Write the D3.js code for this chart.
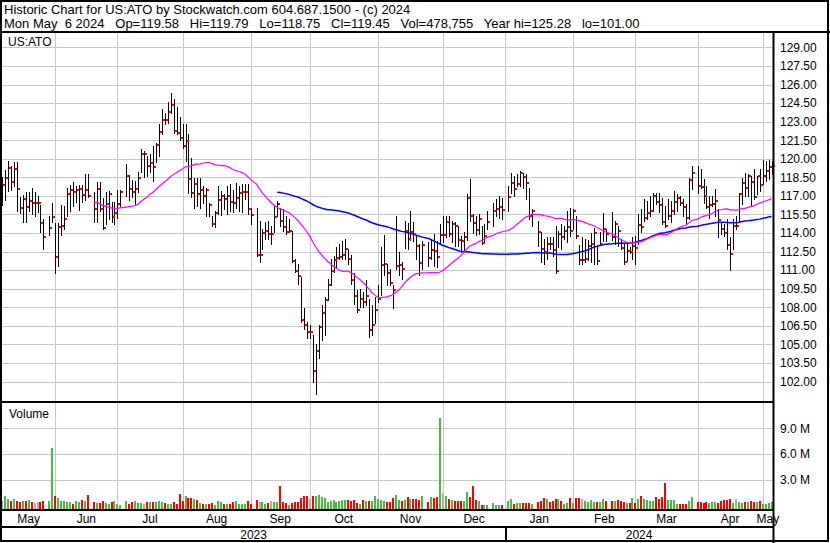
<!DOCTYPE html>
<html><head><meta charset="utf-8">
<script src="https://cdn.jsdelivr.net/npm/d3@7"></script>
<style>
body{margin:0;background:#fff}
svg{display:block}
text{font-family:"Liberation Sans",Arial,sans-serif;font-size:12px;fill:#000}
text.hdr{font-size:13px}
</style>
</head><body>
<svg id="c" width="830" height="543"></svg>
<script>
// ---- DATA (weekday slots from Mon 2023-05-08 to Mon 2024-05-06; null = market holiday) ----
const closes = [
117.86,118.45,119.25,118.12,119.17,117.56,116.03,116.76,116.11,116.6,
116.41,116.41,116.41,114.83,113.68,null,114.43,115.28,112.09,114.51,
114.59,115.12,117.16,117.48,117.32,117.48,117.56,117.05,117.48,117.0,
null,115.95,117.56,115.95,114.43,116.33,117.16,115.31,115.63,116.36,
117.32,null,118.61,117.56,117.32,117.56,118.45,120.38,120.38,119.41,
119.65,119.33,121.1,122.14,123.16,123.11,123.75,124.32,122.22,122.06,
121.66,121.02,121.42,118.39,117.24,117.96,117.16,117.48,117.0,117.48,
116.28,114.75,115.63,116.68,117.0,116.76,117.0,116.5,116.44,116.84,
117.24,117.3,117.32,115.95,115.47,null,112.25,112.25,114.0,114.2,
113.9,113.9,115.3,116.36,115.0,114.5,114.1,114.2,111.7,110.9,
110.5,107.0,106.55,106.0,106.0,102.85,104.46,106.4,107.5,108.6,
109.76,110.9,111.85,112.0,112.05,112.25,112.7,111.9,110.17,108.9,
107.8,108.7,108.4,108.9,106.2,106.55,107.75,108.7,111.45,111.53,
110.73,109.93,109.36,111.37,111.45,111.13,114.19,113.51,114.07,113.91,
112.98,111.56,113.03,null,112.0,112.66,112.55,112.1,113.84,113.84,
114.91,113.94,114.75,114.56,113.46,113.35,113.67,116.84,115.36,114.83,
114.26,115.15,113.22,113.73,114.91,null,115.79,115.92,116.08,115.84,
null,116.92,118.04,117.56,117.96,118.82,118.5,118.04,115.39,115.76,
null,114.1,112.74,112.5,113.14,113.1,112.6,110.97,113.94,113.67,
114.14,114.45,114.2,115.76,113.75,111.85,111.85,111.93,112.98,113.11,
113.99,111.77,113.11,114.32,113.94,null,113.67,114.75,114.16,112.82,
111.69,112.55,112.5,112.98,112.76,114.61,114.48,115.23,115.6,115.79,
117.0,116.51,116.27,114.91,114.53,115.36,115.76,116.51,116.81,116.4,
116.09,115.2,118.28,118.82,null,117.8,117.69,116.97,116.09,116.27,
116.38,116.6,115.04,114.32,114.0,113.03,112.31,114.58,114.58,117.16,
118.01,117.61,118.6,118.1,116.92,118.6,117.88,118.6,119.0,119.33,
119.45];

const highs = [
118.5,119.1,119.8,119.4,119.7,119.7,116.9,117.1,117.3,117.3,
117.6,117.3,117.0,116.3,115.1,null,115.4,116.4,114.8,114.8,
116.3,116.2,117.6,117.9,118.1,117.8,117.9,117.9,118.8,118.8,
null,117.3,118.1,118.1,116.8,117.3,117.4,116.5,116.5,117.5,
117.5,null,119.6,118.7,118.3,118.2,118.9,120.75,120.6,120.2,
120.35,121.0,121.3,122.8,124.0,123.7,124.6,125.28,124.8,124.2,
123.4,122.8,122.8,122.0,120.03,118.47,118.47,118.47,117.8,117.67,
116.46,115.4,115.8,117.8,117.4,117.13,117.8,117.94,117.5,118.07,
117.8,117.94,117.94,117.94,116.06,null,116.06,115.0,114.3,114.86,
115.0,114.6,116.2,116.6,116.06,115.93,115.4,115.1,114.2,111.9,
111.5,110.43,107.9,106.8,106.6,105.74,105.07,106.55,108.16,108.83,
110.3,111.9,112.18,112.85,113.1,113.38,113.5,112.7,112.2,110.8,
109.36,109.5,109.2,110.2,108.7,108.16,108.8,109.76,112.9,113.8,
111.5,111.1,109.8,115.4,112.44,111.64,115.0,114.8,115.8,114.86,
113.78,113.11,113.38,null,113.25,113.5,113.92,113.38,114.72,115.39,
115.39,115.39,114.99,114.86,114.59,113.78,114.05,117.13,118.34,115.5,
115.4,115.5,114.6,114.7,115.8,null,116.46,116.73,117.0,116.86,
null,117.8,118.87,118.6,118.74,119.0,118.87,118.74,117.67,115.92,
null,114.98,114.05,113.51,113.65,113.65,113.65,114.6,114.18,114.7,
114.58,115.79,116.06,115.92,115.4,113.0,113.65,113.5,113.4,114.0,
114.4,113.0,114.05,115.65,114.3,null,115.7,114.98,114.58,113.5,
113.1,113.24,112.84,113.65,113.78,115.52,115.92,116.73,116.59,117.0,
117.27,117.27,117.27,116.86,116.19,116.73,116.59,117.4,117.13,117.0,
116.73,116.32,118.47,119.4,null,119.4,119.14,118.34,117.8,117.0,
117.0,117.53,115.92,114.85,114.72,115.12,113.65,115.12,115.39,117.27,
118.47,118.87,118.74,118.6,119.14,118.6,119.14,119.94,119.8,119.94,
119.79];

const lows = [
116.3,116.7,117.4,117.5,117.8,115.8,115.6,114.9,114.9,115.8,
115.5,115.4,115.7,114.05,112.7,null,113.8,114.85,110.8,111.3,
113.8,114.3,115.4,115.8,116.2,116.5,115.9,116.5,116.7,116.9,
null,114.85,114.85,115.8,114.3,114.7,115.1,114.85,114.7,115.2,
116.2,null,117.0,116.7,116.9,116.3,117.3,118.9,118.5,118.6,
118.9,118.2,119.7,120.2,122.0,122.8,122.9,123.7,122.1,122.0,
121.55,120.9,119.8,117.2,116.95,116.06,116.2,116.06,116.46,115.4,
115.4,114.6,114.45,115.5,115.45,115.93,115.5,115.8,115.66,116.06,
115.8,115.66,116.73,115.5,114.72,null,112.18,111.64,112.7,113.5,
113.5,113.1,114.05,115.4,114.6,114.2,113.9,114.05,111.64,110.84,
109.9,106.8,106.28,105.5,105.5,102.0,101.0,103.87,105.34,105.74,
108.56,109.76,110.84,111.24,111.9,111.9,111.9,111.5,109.9,108.3,
107.6,108.0,108.0,108.2,105.6,105.74,106.7,108.4,109.0,110.6,
109.8,109.76,107.9,111.1,110.57,110.3,112.8,112.7,113.4,113.38,
111.9,110.57,111.1,null,111.37,111.9,111.37,111.24,113.11,113.25,
113.65,113.78,113.25,112.98,112.98,112.44,112.58,113.4,115.0,114.0,
113.8,113.9,113.1,113.25,114.3,null,114.58,115.39,115.25,115.12,
null,115.8,117.27,117.0,117.8,117.8,117.67,116.73,115.12,114.58,
null,112.98,111.63,111.5,111.9,112.71,112.17,110.8,112.85,112.7,
113.51,113.24,113.78,114.3,113.6,111.5,111.5,111.65,111.8,111.65,
111.5,111.5,113.0,113.38,113.38,null,113.4,113.1,112.98,112.7,
111.5,111.77,112.4,111.9,111.5,113.11,114.05,114.99,115.12,115.39,
115.79,116.32,115.66,114.72,114.45,115.12,114.86,115.5,115.79,116.3,
115.39,114.72,115.12,117.53,null,117.27,117.67,116.46,116.06,115.25,
116.2,115.39,113.65,113.91,113.78,112.71,111.0,112.7,114.3,114.99,
116.32,117.0,117.0,116.19,116.73,117.13,117.4,117.93,118.2,118.34,
118.75];

// volume in millions of shares
const volumes = [
0.55,1.09,0.74,0.55,0.74,0.51,0.47,0.55,0.51,0.66,
0.43,0.35,0.43,0.47,0.55,null,0.55,6.74,1.13,0.9,
0.58,0.51,0.39,0.43,0.23,0.55,0.43,0.7,0.58,1.25,
null,0.43,0.31,0.27,0.55,0.35,0.23,0.43,0.58,0.16,
0.12,null,0.55,0.19,0.43,0.55,0.35,0.31,0.23,0.39,
0.43,0.47,0.39,0.55,0.39,0.35,0.19,0.19,0.43,0.23,
1.36,0.55,1.13,0.9,0.9,0.78,0.66,0.31,0.2,0.19,
0.19,0.27,0.15,0.55,0.39,0.23,0.23,0.23,0.47,0.55,
0.23,0.23,0.16,0.55,0.19,null,0.7,0.43,0.43,0.23,
0.35,0.55,0.43,0.43,2.3,0.43,0.35,0.15,0.27,0.43,
0.43,0.94,1.13,1.13,0.78,1.13,1.17,1.25,1.05,0.94,
0.43,0.55,0.66,0.47,0.55,0.62,0.66,0.66,0.55,0.62,
0.27,0.19,0.66,0.55,0.58,0.58,1.09,0.82,0.66,0.55,
0.43,0.43,0.9,1.25,0.7,0.51,0.7,1.01,0.82,0.82,
0.82,0.66,1.13,null,0.47,1.01,0.94,1.01,10.13,1.48,
1.13,0.78,0.62,0.55,0.55,0.55,0.55,1.6,1.01,2.3,
0.66,0.55,0.05,0.05,0.08,null,0.31,0.12,0.08,0.12,
null,0.58,0.78,0.19,0.27,0.27,0.31,0.31,0.31,0.19,
null,0.47,0.55,0.9,0.82,0.43,0.55,0.74,0.78,0.55,
0.16,0.27,0.9,0.31,0.9,0.9,0.78,0.58,0.43,0.62,
0.43,0.43,0.43,0.78,0.55,null,0.55,0.55,0.66,0.55,
0.43,0.27,0.35,0.9,0.31,0.78,1.13,0.78,0.66,0.58,
0.55,0.97,0.78,1.01,2.68,0.66,0.66,0.66,0.23,0.23,
0.23,0.23,0.58,1.01,null,0.43,0.43,0.35,0.43,0.27,
0.43,0.43,0.27,0.55,0.66,0.66,0.74,0.35,0.78,0.39,
0.35,0.47,0.43,0.55,0.39,0.43,0.51,0.23,0.23,0.31,
0.48];

const priceTicks = [102.00,103.50,105.00,106.50,108.00,109.50,111.00,112.50,114.00,115.50,117.00,118.50,120.00,121.50,123.00,124.50,126.00,127.50,129.00];
const volumeTicks = [3,6,9];
const volumeTickLabels = ["3.0 M","6.0 M","9.0 M"];
const monthNames = ["May","Jun","Jul","Aug","Sep","Oct","Nov","Dec","Jan","Feb","Mar","Apr","May"];
const monthStartSlots = [18,39,61,84,104,127,149,170,193,214,235,257];
const yearNames = ["2023","2024"];
const yearStartSlot = 170;
const headerLine1 = "Historic Chart for US:ATO by Stockwatch.com 604.687.1500 - (c) 2024";
const headerLine2 = "Mon May  6 2024   Op=119.58   Hi=119.79   Lo=118.75   Cl=119.45   Vol=478,755   Year hi=125.28   lo=101.00";
const symbol = "US:ATO";
const maShort = 30, maLong = 90;

// ---- DRAWING ----
const svg = d3.select("#c");
const W = 830, H = 543;
const plotL = 2, plotR = 773;
const priceTop = 33, priceBot = 401, volTop = 403, volBot = 509;

const x = d3.scaleLinear().domain([0, 260]).range([2.0, 771.6]);
const y = d3.scaleLinear().domain([102, 129]).range([381.5, 47.4]);
const vy = d3.scaleLinear().domain([0, 9]).range([505.8, 428.2]);
const p = v => Math.round(v) + 0.5;
const GRID = "#c8c8c8";

svg.append("rect").attr("width", W).attr("height", H).attr("fill", "#fff");

const g = svg.append("g");
g.selectAll(".pg").data(priceTicks).join("line")
  .attr("x1", plotL).attr("x2", plotR - 1)
  .attr("y1", d => p(y(d))).attr("y2", d => p(y(d)))
  .attr("stroke", GRID).attr("stroke-width", 1);
g.selectAll(".vg").data(volumeTicks).join("line")
  .attr("x1", plotL).attr("x2", plotR - 1)
  .attr("y1", d => p(vy(d))).attr("y2", d => p(vy(d)))
  .attr("stroke", GRID).attr("stroke-width", 1);
[[priceTop, priceBot], [volTop, volBot]].forEach(([a, b]) => {
  g.append("g").selectAll("line").data(monthStartSlots).join("line")
    .attr("x1", d => p(x(d))).attr("x2", d => p(x(d)))
    .attr("y1", a).attr("y2", b)
    .attr("stroke", GRID).attr("stroke-width", 1);
});

const idx = d3.range(closes.length).filter(i => closes[i] != null);

function dir(k) {
  if (k === 0) return 0;
  const i = idx[k], j = idx[k - 1];
  return closes[i] > closes[j] ? 1 : (closes[i] < closes[j] ? -1 : 0);
}
const volColor = d => d > 0 ? "#4cb944" : (d < 0 ? "#ff0000" : "#b0b0b0");
svg.append("g").selectAll("rect").data(idx.map((i, k) => ({i, v: volumes[i], d: dir(k)})))
  .join("rect")
  .attr("x", d => Math.round(x(d.i)) - 1)
  .attr("width", 2)
  .attr("y", d => Math.round(vy(d.v)))
  .attr("height", d => volBot - Math.round(vy(d.v)))
  .attr("fill", d => volColor(d.d));

svg.append("g").selectAll("line").data(idx).join("line")
  .attr("x1", i => p(x(i))).attr("x2", i => p(x(i)))
  .attr("y1", i => Math.round(y(highs[i]))).attr("y2", i => Math.round(y(lows[i])) + 1)
  .attr("stroke", "#000").attr("stroke-width", 1);

function sma(n) {
  const out = [];
  for (let k = n - 1; k < idx.length; k++) {
    out.push([idx[k], d3.mean(idx.slice(k - n + 1, k + 1), i => closes[i])]);
  }
  return out;
}
const line = d3.line().x(d => x(d[0])).y(d => y(d[1]));
svg.append("path").datum(sma(maLong)).attr("d", line)
  .attr("fill", "none").attr("stroke", "#0000ff").attr("stroke-width", 1.5);
svg.append("path").datum(sma(maShort)).attr("d", line)
  .attr("fill", "none").attr("stroke", "#ff00ff").attr("stroke-width", 1.2);

svg.append("g").selectAll("rect").data(idx).join("rect")
  .attr("x", i => Math.round(x(i)) + 1)
  .attr("y", i => Math.round(y(closes[i])) - 1)
  .attr("width", 2).attr("height", 2).attr("fill", "#ff0000");

const fr = svg.append("g").attr("stroke", "#000").attr("stroke-width", 2).attr("fill", "none");
fr.append("rect").attr("x", 1).attr("y", 1).attr("width", 827).attr("height", 540);
fr.append("line").attr("x1", 0).attr("x2", W).attr("y1", 32).attr("y2", 32);
fr.append("line").attr("x1", 0).attr("x2", plotR + 1).attr("y1", 402).attr("y2", 402);
fr.append("line").attr("x1", 0).attr("x2", plotR + 1).attr("y1", 510).attr("y2", 510);
fr.append("line").attr("x1", 0).attr("x2", plotR + 1).attr("y1", 527).attr("y2", 527);
fr.append("line").attr("x1", plotR + 0.5).attr("x2", plotR + 0.5).attr("y1", 32).attr("y2", H);
fr.append("line").attr("x1", Math.round(x(yearStartSlot)) + 1).attr("x2", Math.round(x(yearStartSlot)) + 1).attr("y1", 527).attr("y2", 542);

svg.append("text").attr("class", "hdr").attr("x", 4).attr("y", 14).text(headerLine1);
svg.append("text").attr("class", "hdr").attr("x", 4).attr("y", 28).attr("xml:space", "preserve").style("white-space", "pre").text(headerLine2);
svg.append("text").attr("x", 8).attr("y", 46).text(symbol);
svg.append("text").attr("x", 9).attr("y", 418).text("Volume");

svg.append("g").selectAll("text").data(priceTicks).join("text")
  .attr("x", 780).attr("y", d => y(d)).attr("dy", "0.36em")
  .text(d => d.toFixed(2));
svg.append("g").selectAll("text").data(volumeTicks).join("text")
  .attr("x", 780).attr("y", d => vy(d)).attr("dy", "0.36em")
  .text((d, k) => volumeTickLabels[k]);

const bounds = [plotL].concat(monthStartSlots.map(s => x(s)), [plotR]);
svg.append("g").selectAll("text").data(monthNames).join("text")
  .attr("x", (d, k) => (bounds[k] + bounds[k + 1]) / 2)
  .attr("y", 523).attr("text-anchor", "middle").text(d => d);
const yb = [plotL, x(yearStartSlot), plotR];
svg.append("g").selectAll("text").data(yearNames).join("text")
  .attr("x", (d, k) => (yb[k] + yb[k + 1]) / 2)
  .attr("y", 539).attr("text-anchor", "middle").text(d => d);
</script>
</body></html>
